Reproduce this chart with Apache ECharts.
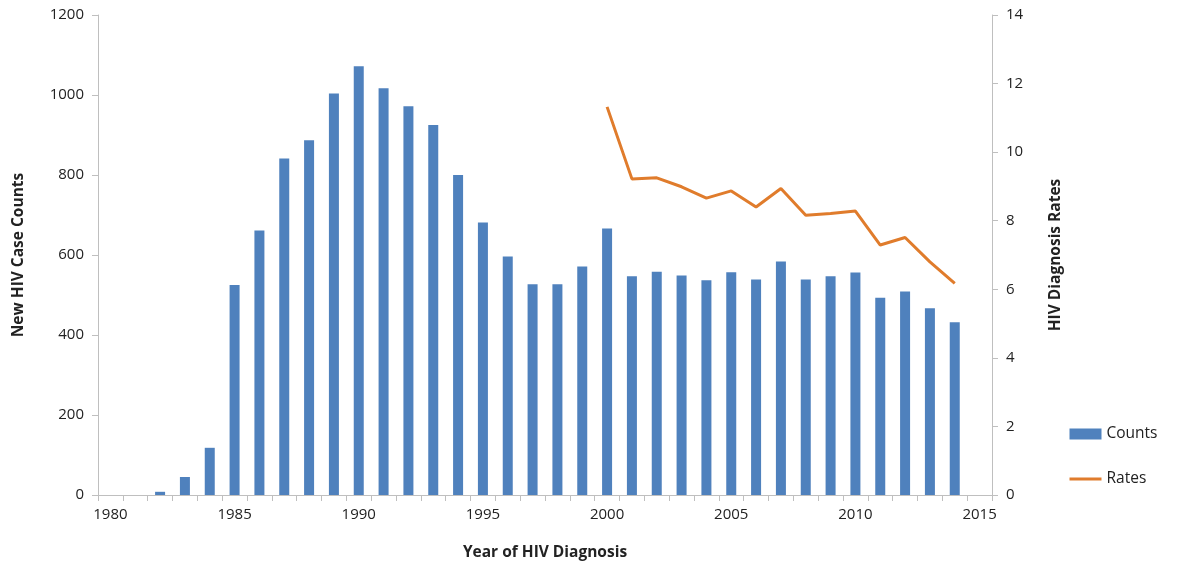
<!DOCTYPE html>
<html>
<head>
<meta charset="utf-8">
<script src="https://cdn.jsdelivr.net/npm/echarts@6/dist/echarts.min.js"></script>
<style>html,body{margin:0;padding:0;background:#fff}#c{width:1178px;height:569px}</style>
</head>
<body>
<div id="c"></div>
<script>
const years = [];
for (let y = 1980; y <= 2015; y++) years.push(String(y));
const counts = [null, null, 8, 45, 118, 525, 661, 841, 887, 1004, 1072, 1017, 972, 925, 800, 681, 596, 527, 527, 571,
  666, 547, 558, 549, 537, 557, 539, 584, 539, 547, 556, 493, 509, 467, 432, null];
const rates = [null, null, null, null, null, null, null, null, null, null, null, null, null, null, null, null, null, null, null, null,
  11.32, 9.22, 9.25, 8.99, 8.66, 8.87, 8.40, 8.94, 8.16, 8.21, 8.28, 7.29, 7.51, 6.80, 6.17, null];
const leftTicks = [0, 1200, 200];
const rightTicks = [0, 14, 2];

const font = 'Open Sans';
const chart = echarts.init(document.getElementById('c'));
chart.setOption({
  animation: false,
  textStyle: { fontFamily: font },
  grid: { left: 98, right: 186, top: 15, bottom: 74, containLabel: false },
  legend: {
    orient: 'vertical', left: 1063, top: 421, itemGap: 29,
    itemWidth: 32, itemHeight: 11,
    textStyle: { fontFamily: font, fontSize: 15.5, color: '#222' },
    data: [{ name: 'Counts', icon: 'rect' },
           { name: 'Rates', itemStyle: { opacity: 0 }, lineStyle: { width: 3, color: '#E07C2C' } }]
  },
  xAxis: {
    type: 'category', data: years, boundaryGap: true,
    name: 'Year of HIV Diagnosis', nameLocation: 'middle', nameGap: 50,
    nameTextStyle: { fontFamily: font, fontSize: 15.5, fontWeight: 'bold', color: '#222' },
    axisLine: { lineStyle: { color: '#BFBFBF', width: 1 } },
    axisTick: { show: true, interval: 0, length: 6, lineStyle: { color: '#BFBFBF' } },
    axisLabel: { interval: 4, fontSize: 15, color: '#222', margin: 12 }
  },
  yAxis: [{
    type: 'value', min: leftTicks[0], max: leftTicks[1], interval: leftTicks[2],
    name: 'New HIV Case Counts', nameLocation: 'middle', nameGap: 71, nameRotate: 90,
    nameTextStyle: { fontFamily: font, fontSize: 15.5, fontWeight: 'bold', color: '#222' },
    axisLine: { show: true, lineStyle: { color: '#BFBFBF' } },
    axisTick: { show: true, length: 6, lineStyle: { color: '#BFBFBF' } },
    axisLabel: { fontSize: 15, color: '#222', margin: 14, formatter: v => String(v) },
    splitLine: { show: false }
  }, {
    type: 'value', min: rightTicks[0], max: rightTicks[1], interval: rightTicks[2], position: 'right',
    name: 'HIV Diagnosis Rates', nameLocation: 'middle', nameGap: 56, nameRotate: 90,
    nameTextStyle: { fontFamily: font, fontSize: 15.5, fontWeight: 'bold', color: '#222' },
    axisLine: { show: true, lineStyle: { color: '#BFBFBF' } },
    axisTick: { show: true, length: 6, lineStyle: { color: '#BFBFBF' } },
    axisLabel: { fontSize: 15, color: '#222', margin: 14 },
    splitLine: { show: false }
  }],
  series: [{
    name: 'Counts', type: 'bar', data: counts, barWidth: 10,
    itemStyle: { color: '#4F81BD' }
  }, {
    name: 'Rates', type: 'line', yAxisIndex: 1, data: rates, symbol: 'none', showSymbol: false,
    connectNulls: false, lineStyle: { color: '#E07C2C', width: 3 }, itemStyle: { color: '#E07C2C' }
  }]
});
</script>
</body>
</html>
